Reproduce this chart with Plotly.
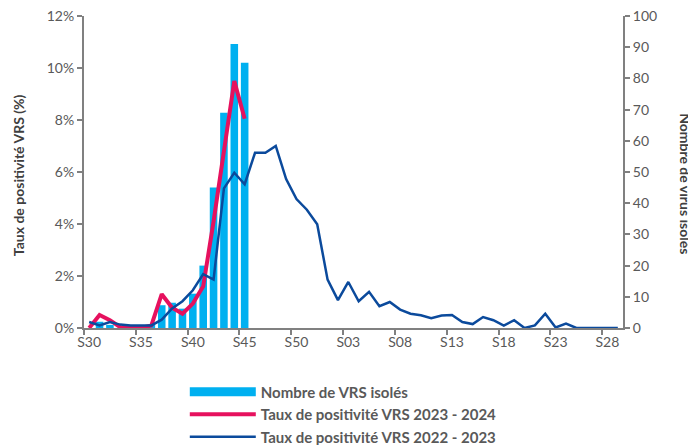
import plotly.graph_objects as go

weeks = [f"S{w}" for w in range(30, 53)] + [f"S{w:02d}" for w in range(1, 30)]

nb_vrs_isoles = [0, 2, 1, 0, 0, 0, 1, 7.3, 8.1, 6.2, 11, 20, 45, 69, 91, 85]

taux_2023_2024 = [0, 0.5, 0.3, 0.03, 0, 0, 0.1, 1.3, 0.78, 0.55, 0.94, 1.6, 4.1, 6.7, 9.5, 8.05]

taux_2022_2023 = [0.23, 0.1, 0.23, 0.13, 0.1, 0.1, 0.1, 0.32, 0.75, 1.03, 1.45, 2.07, 1.86,
                  5.37, 5.97, 5.53, 6.74, 6.74, 7.0, 5.73, 4.96, 4.55, 3.99,
                  1.86, 1.07, 1.77, 1.03, 1.39, 0.84, 1.0, 0.71, 0.55, 0.49, 0.38, 0.48,
                  0.5, 0.23, 0.15, 0.42, 0.3, 0.09, 0.3, 0, 0.1, 0.55, 0.02, 0.17,
                  0, 0, 0, 0, 0]

left_ticks = [0, 2, 4, 6, 8, 10, 12]
left_labels = [f"{v}%" for v in left_ticks]
right_ticks = list(range(0, 101, 10))

FONT = "Lato, 'Open Sans', sans-serif"
GRAY = "#808080"
TXT = "#595959"
BAR_COLOR = "#00b0f0"

fig = go.Figure()
fig.add_trace(go.Bar(
    x=weeks[:len(nb_vrs_isoles)], y=nb_vrs_isoles, name="Nombre de VRS isolés",
    marker=dict(color=BAR_COLOR, line=dict(width=0)), yaxis="y", showlegend=False))
# legend entry for the bars (drawn as a wide band, like the reference)
fig.add_trace(go.Scatter(
    x=[None], y=[None], name="<b>Nombre de VRS isolés</b>", mode="lines",
    line=dict(color=BAR_COLOR, width=9), yaxis="y2", hoverinfo="skip"))
fig.add_trace(go.Scatter(
    x=weeks[:len(taux_2023_2024)], y=taux_2023_2024,
    name="<b>Taux de positivité VRS 2023 - 2024</b>",
    mode="lines", line=dict(color="#e6115e", width=4), yaxis="y2"))
fig.add_trace(go.Scatter(
    x=weeks[:len(taux_2022_2023)], y=taux_2022_2023,
    name="<b>Taux de positivité VRS 2022 - 2023</b>",
    mode="lines", line=dict(color="#0b4a9c", width=2.5), yaxis="y2"))

fig.update_layout(
    width=688, height=437,
    margin=dict(l=76, r=73, t=8, b=117, autoexpand=False),
    plot_bgcolor="white", paper_bgcolor="white",
    bargap=0.27,
    showlegend=True,
    font=dict(family=FONT, size=14, color=TXT),
    xaxis=dict(type="category", categoryorder="array", categoryarray=weeks,
               range=[-0.5, len(weeks) - 0.5],
               tickmode="linear", tick0=0, dtick=5, tickson="boundaries",
               tickangle=0,
               ticks="outside", ticklen=5, tickcolor=GRAY, tickwidth=2,
               showline=True, linecolor=GRAY, linewidth=2, showgrid=False,
               tickfont=dict(size=14, color=TXT)),
    yaxis=dict(side="right", range=[0, 100], tickvals=right_ticks,
               ticklabeloverflow="allow",
               ticks="outside", ticklen=5, tickcolor=GRAY, tickwidth=2,
               showline=True, linecolor=GRAY, linewidth=2, showgrid=False,
               zeroline=False, tickfont=dict(size=14, color=TXT)),
    yaxis2=dict(side="left", overlaying="y", range=[0, 12],
                tickmode="array", tickvals=left_ticks, ticktext=left_labels,
                ticklabeloverflow="allow",
                ticks="outside", ticklen=5, tickcolor=GRAY, tickwidth=2,
                showline=True, linecolor=GRAY, linewidth=2, showgrid=False,
                zeroline=False, tickfont=dict(size=14, color=TXT)),
    legend=dict(x=0.187, y=-0.152, xanchor="left", yanchor="top", orientation="v",
                font=dict(size=15, color=TXT), itemwidth=66),
    annotations=[
        dict(text="<b>Taux de positivité VRS (%)</b>", textangle=-90,
             xref="paper", yref="paper", x=-0.1224, y=0.49,
             xanchor="center", yanchor="middle", showarrow=False,
             font=dict(size=14, color="#404040")),
        dict(text="<b>Nombre de virus isolés</b>", textangle=90,
             xref="paper", yref="paper", x=1.117, y=0.464,
             xanchor="center", yanchor="middle", showarrow=False,
             font=dict(size=14, color="#404040")),
    ],
)

fig.write_html("out.html")
